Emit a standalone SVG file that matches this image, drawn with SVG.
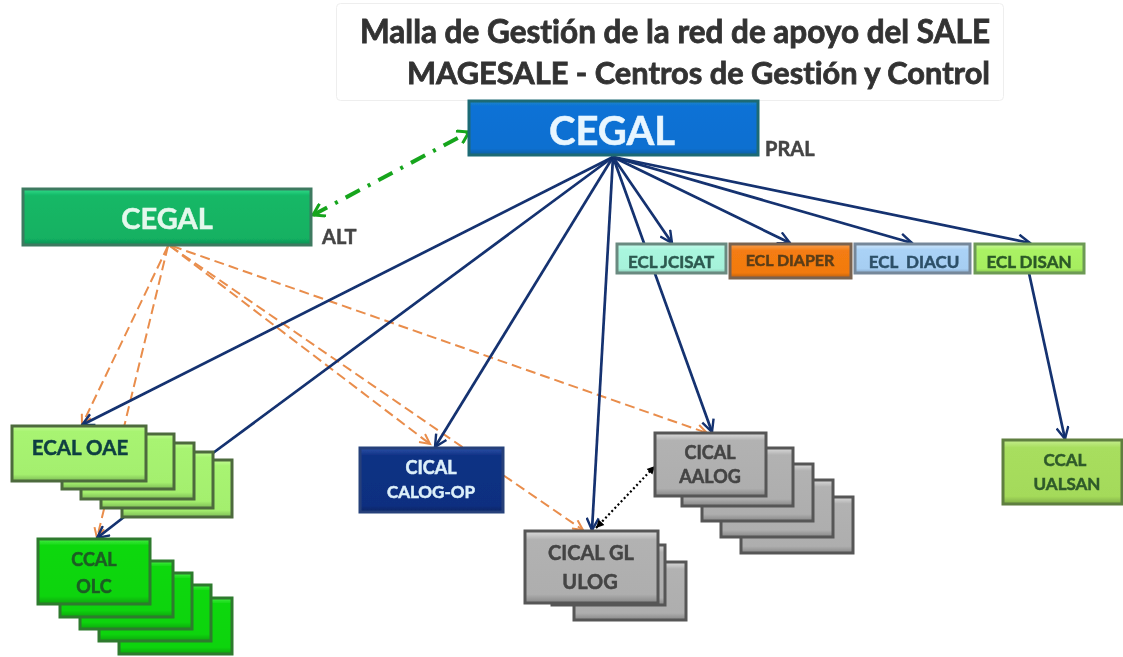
<svg xmlns="http://www.w3.org/2000/svg" width="1123" height="657" viewBox="0 0 1123 657">
<style>
text{font-family:Lato,"Open Sans","Liberation Sans",sans-serif;font-weight:700;text-anchor:middle;font-variant-ligatures:none;fill:currentColor;stroke:currentColor;stroke-width:.5}
.t{color:#333;font-size:31.5px;text-anchor:end;stroke-width:.8}
.tag{color:#444;font-size:20px;text-anchor:start}
.n{stroke-width:3}
.c1{font-size:40px;color:#e8f6ff}.c2{font-size:29px;color:#e4f8ec}
.m{font-size:18px}.s{font-size:17px}
.nv{fill:none;stroke:#12306f;stroke-width:2.7}
.or{fill:none;stroke:#e98d4c;stroke-width:2;stroke-dasharray:10 5}
.gr{fill:none;stroke:#17a51f;stroke-width:4;stroke-dasharray:16 9 3 9}
.dt{fill:none;stroke:#000;stroke-width:2.2;stroke-dasharray:2 2.5}
.blue{fill:url(#gBlue);stroke:#1c6a75}.alt{fill:url(#gAlt);stroke:#3c7a60}
.lg{fill:url(#gLg);stroke:#4d6b3c}.hg{fill:url(#gHg);stroke:#2f7a2f}
.nvy{fill:url(#gNvy);stroke:#27407a}.gy{fill:url(#gGy);stroke:#565656}
.jc{fill:url(#gJc);stroke:#6b8a80}.dp{fill:url(#gDp);stroke:#7a6350}
.da{fill:url(#gDa);stroke:#76889a}.ds{fill:url(#gDs);stroke:#6d9a55}.ua{fill:url(#gUa);stroke:#5f7f3f}
</style>
<defs>
<filter id="soft" x="-5%" y="-5%" width="110%" height="110%"><feGaussianBlur stdDeviation="0.6"/></filter>
<linearGradient id="gBlue" x1="0" y1="0" x2="0" y2="1"><stop offset="0" stop-color="#1c86c8"/><stop offset=".1" stop-color="#0c72d6"/><stop offset=".88" stop-color="#0b6fd0"/><stop offset="1" stop-color="#0c5fa0"/></linearGradient>
<linearGradient id="gAlt" x1="0" y1="0" x2="0" y2="1"><stop offset="0" stop-color="#2fdc8a"/><stop offset=".12" stop-color="#14b866"/><stop offset=".88" stop-color="#12b162"/><stop offset="1" stop-color="#0f8f55"/></linearGradient>
<linearGradient id="gLg" x1="0" y1="0" x2="0" y2="1"><stop offset="0" stop-color="#c4fb96"/><stop offset=".1" stop-color="#a8f472"/><stop offset=".88" stop-color="#a4ef6e"/><stop offset="1" stop-color="#7dbb55"/></linearGradient>
<linearGradient id="gHg" x1="0" y1="0" x2="0" y2="1"><stop offset="0" stop-color="#45ee45"/><stop offset=".1" stop-color="#10d810"/><stop offset=".88" stop-color="#10d410"/><stop offset="1" stop-color="#10a510"/></linearGradient>
<linearGradient id="gNvy" x1="0" y1="0" x2="0" y2="1"><stop offset="0" stop-color="#2d52a8"/><stop offset=".12" stop-color="#103184"/><stop offset=".9" stop-color="#0f2f80"/><stop offset="1" stop-color="#0c2563"/></linearGradient>
<linearGradient id="gGy" x1="0" y1="0" x2="0" y2="1"><stop offset="0" stop-color="#dcdcdc"/><stop offset=".12" stop-color="#b2b2b2"/><stop offset=".88" stop-color="#aeaeae"/><stop offset="1" stop-color="#868686"/></linearGradient>
<linearGradient id="gJc" x1="0" y1="0" x2="0" y2="1"><stop offset="0" stop-color="#c8fbec"/><stop offset=".2" stop-color="#a9f6de"/><stop offset=".85" stop-color="#a6f2da"/><stop offset="1" stop-color="#88c8b4"/></linearGradient>
<linearGradient id="gDp" x1="0" y1="0" x2="0" y2="1"><stop offset="0" stop-color="#f8a050"/><stop offset=".2" stop-color="#f47c12"/><stop offset=".85" stop-color="#f27a10"/><stop offset="1" stop-color="#b85f10"/></linearGradient>
<linearGradient id="gDa" x1="0" y1="0" x2="0" y2="1"><stop offset="0" stop-color="#d2e8fb"/><stop offset=".2" stop-color="#aad2f6"/><stop offset=".85" stop-color="#a6cef2"/><stop offset="1" stop-color="#85a5c5"/></linearGradient>
<linearGradient id="gDs" x1="0" y1="0" x2="0" y2="1"><stop offset="0" stop-color="#ccf89c"/><stop offset=".2" stop-color="#aaf264"/><stop offset=".85" stop-color="#a6ee60"/><stop offset="1" stop-color="#85c04d"/></linearGradient>
<linearGradient id="gUa" x1="0" y1="0" x2="0" y2="1"><stop offset="0" stop-color="#c6ee90"/><stop offset=".12" stop-color="#a8de5e"/><stop offset=".88" stop-color="#a4da5a"/><stop offset="1" stop-color="#7fac45"/></linearGradient>
<marker id="aN" markerWidth="16" markerHeight="14" refX="13" refY="7" orient="auto" markerUnits="userSpaceOnUse"><path d="M1 1L13 7L1 13" fill="none" stroke="#12306f" stroke-width="2.4"/></marker>
<marker id="aO" markerWidth="14" markerHeight="12" refX="11" refY="6" orient="auto" markerUnits="userSpaceOnUse"><path d="M1 1L11 6L1 11" fill="none" stroke="#e98d4c" stroke-width="2"/></marker>
<marker id="aG" markerWidth="16" markerHeight="16" refX="13" refY="8" orient="auto-start-reverse" markerUnits="userSpaceOnUse"><path d="M2 1L13 8L2 15" fill="none" stroke="#17a51f" stroke-width="3"/></marker>
<marker id="aK" markerWidth="10" markerHeight="10" refX="8" refY="5" orient="auto-start-reverse" markerUnits="userSpaceOnUse"><path d="M0 1L8 5L0 9Z" fill="#000"/></marker>
</defs>
<rect width="1123" height="657" fill="#fff"/>
<g filter="url(#soft)">
<g id="connectors">
<path class="or" marker-end="url(#aO)" d="M168 246L82 425"/>
<path class="or" marker-end="url(#aO)" d="M168 246L97 538"/>
<path class="or" marker-end="url(#aO)" d="M170 246L430 444"/>
<path class="or" marker-end="url(#aO)" d="M170 246L583 530"/>
<path class="or" marker-end="url(#aO)" d="M172 246L707 433"/>
<path class="nv" marker-end="url(#aN)" d="M613 157L82 425"/>
<path class="nv" d="M613 157L213 453"/>
<path class="nv" marker-end="url(#aN)" d="M124 517L97 538"/>
<path class="nv" marker-end="url(#aN)" d="M613 157L435 447"/>
<path class="nv" marker-end="url(#aN)" d="M613 157L592 530"/>
<path class="nv" marker-end="url(#aN)" d="M613 157L712 432"/>
<path class="nv" marker-end="url(#aN)" d="M613 157L672 243"/>
<path class="nv" marker-end="url(#aN)" d="M613 157L790 243"/>
<path class="nv" marker-end="url(#aN)" d="M613 157L912 243"/>
<path class="nv" marker-end="url(#aN)" d="M613 157L1030 243"/>
<path class="nv" marker-end="url(#aN)" d="M1029 273L1065 439"/>
<path class="dt" marker-start="url(#aK)" marker-end="url(#aK)" d="M596 528L655 466"/>
<path class="gr" marker-start="url(#aG)" marker-end="url(#aG)" d="M313 215L469 132"/>
</g>
<g id="title">
<rect x="336.500" y="3.500" width="667" height="97" rx="4" fill="#fff" stroke="#eee"/>
<text class="t" x="990" y="43">Malla de Gestión de la red de apoyo del SALE</text>
<text class="t" x="990" y="84" style="font-size:30.800px">MAGESALE - Centros de Gestión y Control</text>
</g>
<g id="cegal-pral">
<rect class="n blue" x="469" y="101" width="289" height="54"/>
<text class="c1" x="612" y="145">CEGAL</text>
<text class="tag" x="765" y="156">PRAL</text>
</g>
<g id="cegal-alt">
<rect class="n alt" x="23" y="189" width="288" height="56"/>
<text class="c2" x="167" y="229">CEGAL</text>
<text class="tag" x="322" y="244">ALT</text>
</g>
<g id="ecal-oae">
<rect class="n lg" x="122" y="460" width="110" height="57"/>
<rect class="n lg" x="101" y="452" width="112" height="56"/>
<rect class="n lg" x="81" y="443" width="113" height="56"/>
<rect class="n lg" x="62" y="434" width="112" height="55"/>
<rect class="n lg" x="12" y="426" width="134" height="55"/>
<text x="80" y="455" font-size="20.500" color="#0f3f42">ECAL OAE</text>
</g>
<g id="ccal-olc">
<rect class="n hg" x="119" y="598" width="113" height="56"/>
<rect class="n hg" x="99" y="585" width="112" height="56"/>
<rect class="n hg" x="80" y="573" width="112" height="56"/>
<rect class="n hg" x="60" y="561" width="113" height="56"/>
<rect class="n hg" x="38" y="539" width="112" height="65"/>
<text class="m" x="94" y="566" color="#1c5c24">CCAL</text>
<text class="m" x="94" y="593" color="#1c5c24">OLC</text>
</g>
<g id="cical-calog">
<rect class="n nvy" x="360" y="448" width="143" height="64"/>
<text class="m" x="431" y="474" color="#dcf0fa">CICAL</text>
<text x="431" y="498" font-size="17" color="#dcf0fa">CALOG-OP</text>
</g>
<g id="cical-gl">
<rect class="n gy" x="574" y="562" width="112" height="58"/>
<rect class="n gy" x="552" y="545" width="113" height="60"/>
<rect class="n gy" x="525" y="531" width="133" height="72"/>
<text x="591" y="560" font-size="20" color="#444">CICAL GL</text>
<text x="590" y="589" font-size="20" color="#444">ULOG</text>
</g>
<g id="cical-aalog">
<rect class="n gy" x="741" y="497" width="112" height="56"/>
<rect class="n gy" x="721" y="480" width="112" height="57"/>
<rect class="n gy" x="702" y="464" width="111" height="57"/>
<rect class="n gy" x="682" y="448" width="111" height="58"/>
<rect class="n gy" x="655" y="433" width="111" height="63"/>
<text class="m" x="710" y="459" color="#444">CICAL</text>
<text class="m" x="710" y="483" color="#444">AALOG</text>
</g>
<g id="ecl-jcisat">
<rect class="n jc" x="617" y="244" width="109" height="29"/>
<text class="s" x="671" y="268" color="#2d5a50">ECL JCISAT</text>
</g>
<g id="ecl-diaper">
<rect class="n dp" x="730" y="244" width="121" height="34"/>
<text x="790" y="266" font-size="16" color="#5a3d18">ECL DIAPER</text>
</g>
<g id="ecl-diacu">
<rect class="n da" x="855" y="244" width="115" height="29"/>
<text class="s" x="914" y="268" color="#2d5068">ECL&#160; DIACU</text>
</g>
<g id="ecl-disan">
<rect class="n ds" x="975" y="244" width="109" height="29"/>
<text class="s" x="1029" y="268" color="#2d5a28">ECL DISAN</text>
</g>
<g id="ccal-ualsan">
<rect class="n ua" x="1003" y="440" width="119" height="64"/>
<text class="s" x="1065" y="466" color="#2f5a2a">CCAL</text>
<text class="s" x="1067" y="490" color="#2f5a2a">UALSAN</text>
</g>
</g>
</svg>
